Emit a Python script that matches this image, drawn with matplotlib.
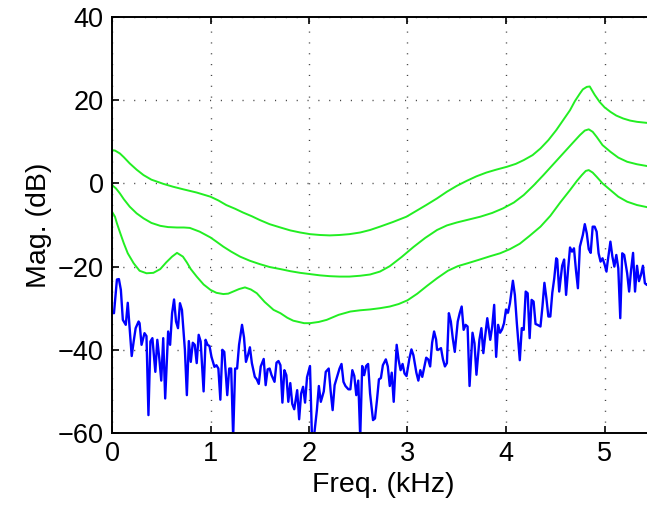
import numpy as np
import matplotlib
matplotlib.use("Agg")
import matplotlib.pyplot as plt

plt.rcParams['font.family'] = ['Liberation Sans', 'DejaVu Sans']

# ---- blue spectrum (kHz, dB)
spec_f = [0.0, 0.02, 0.05, 0.07, 0.09, 0.11, 0.14, 0.16, 0.18, 0.20, 0.22, 0.24, 0.27, 0.28, 0.30,
          0.33, 0.35, 0.37, 0.39, 0.41, 0.44, 0.46, 0.48, 0.50, 0.52, 0.54, 0.57, 0.59, 0.61, 0.63,
          0.65, 0.67, 0.69, 0.71, 0.74, 0.76, 0.78, 0.80, 0.82, 0.84, 0.86, 0.88, 0.90, 0.93, 0.95,
          0.97, 0.99, 1.01, 1.04, 1.06, 1.08, 1.10, 1.12, 1.14, 1.17, 1.19, 1.21, 1.23, 1.25, 1.27,
          1.29, 1.32, 1.34, 1.36, 1.38, 1.40, 1.42, 1.45, 1.47, 1.49, 1.51, 1.54, 1.56, 1.58, 1.60,
          1.62, 1.65, 1.67, 1.69, 1.71, 1.73, 1.75, 1.77, 1.79, 1.81, 1.83, 1.85, 1.88, 1.90, 1.92,
          1.94, 1.96, 1.98, 2.01, 2.03, 2.05, 2.08, 2.10, 2.12, 2.15, 2.17, 2.20, 2.22, 2.24, 2.26,
          2.29, 2.31, 2.33, 2.35, 2.37, 2.40, 2.42, 2.44, 2.46, 2.48, 2.50, 2.52, 2.54, 2.56, 2.58,
          2.60, 2.62, 2.65, 2.67, 2.69, 2.71, 2.73, 2.75, 2.78, 2.80, 2.82, 2.84, 2.86, 2.89, 2.91,
          2.93, 2.95, 2.97, 2.99, 3.02, 3.04, 3.06, 3.09, 3.11, 3.13, 3.15, 3.17, 3.19, 3.21, 3.23,
          3.25, 3.27, 3.29, 3.30, 3.32, 3.34, 3.36, 3.38, 3.40, 3.42, 3.44, 3.46, 3.48, 3.51, 3.53,
          3.55, 3.57, 3.59, 3.61, 3.63, 3.66, 3.68, 3.70, 3.73, 3.75, 3.77, 3.79, 3.81, 3.84, 3.86,
          3.88, 3.90, 3.92, 3.94, 3.96, 3.98, 4.00, 4.02, 4.04, 4.07, 4.09, 4.11, 4.14, 4.16, 4.18,
          4.20, 4.22, 4.24, 4.26, 4.28, 4.30, 4.32, 4.35, 4.37, 4.39, 4.41, 4.43, 4.45, 4.47, 4.49,
          4.51, 4.52, 4.54, 4.57, 4.59, 4.61, 4.63, 4.65, 4.67, 4.69, 4.71, 4.73, 4.75, 4.78, 4.80,
          4.82, 4.84, 4.86, 4.88, 4.90, 4.92, 4.94, 4.96, 4.98, 5.00, 5.02, 5.03, 5.06, 5.08, 5.10,
          5.12, 5.14, 5.16, 5.18, 5.20, 5.23, 5.25, 5.27, 5.29, 5.31, 5.33, 5.35, 5.37, 5.39, 5.41,
          5.43, 5.45]
spec_db = [-31.0, -31.2, -23.1, -23.0, -25.6, -32.8, -34.0, -28.7, -35.2, -41.5, -38.0, -34.8, -33.2, -33.6, -38.8,
           -36.0, -36.7, -55.7, -38.0, -37.2, -45.3, -37.6, -42.0, -47.4, -37.2, -51.7, -35.6, -38.8, -31.2, -27.9,
           -33.2, -34.8, -28.8, -30.4, -40.0, -50.9, -37.9, -42.9, -38.3, -38.8, -43.2, -36.4, -38.0, -50.0, -37.6,
           -38.8, -39.1, -41.7, -44.1, -43.7, -44.5, -52.0, -40.0, -40.5, -50.9, -44.5, -44.5, -61.0, -44.5, -44.5,
           -38.8, -34.0, -37.0, -42.9, -41.3, -39.4, -43.2, -46.5, -47.1, -48.2, -44.0, -42.2, -48.5, -44.7, -44.5,
           -46.1, -47.7, -43.1, -42.7, -43.7, -52.7, -44.9, -46.1, -52.5, -48.0, -53.0, -54.3, -49.7, -56.7, -50.5,
           -48.9, -52.7, -46.6, -43.9, -61.0, -61.0, -54.5, -48.7, -52.5, -50.0, -45.3, -44.5, -50.0, -54.5, -48.5,
           -46.1, -44.5, -43.4, -47.7, -48.7, -49.5, -49.5, -44.9, -46.3, -50.9, -47.4, -61.0, -43.9, -46.1, -43.9,
           -43.4, -50.5, -56.9, -56.5, -52.1, -47.1, -46.8, -43.7, -42.3, -44.0, -48.7, -45.5, -52.5, -38.8, -42.5,
           -44.9, -43.4, -45.7, -46.3, -42.0, -39.9, -41.3, -45.5, -47.4, -44.9, -46.5, -44.2, -41.9, -42.3, -44.0,
           -38.3, -35.6, -37.5, -40.0, -39.9, -39.6, -42.3, -44.0, -43.2, -31.2, -33.2, -37.3, -40.5, -33.2, -31.2,
           -29.6, -35.2, -34.0, -34.4, -48.7, -35.9, -38.4, -46.0, -37.6, -34.8, -40.8, -36.4, -32.4, -37.6, -34.4,
           -29.2, -41.7, -34.0, -35.9, -35.1, -33.6, -30.3, -31.1, -28.8, -23.4, -26.8, -33.6, -42.5, -34.8, -35.2,
           -26.0, -26.4, -37.2, -28.0, -28.4, -33.8, -34.0, -34.4, -29.6, -23.9, -27.6, -32.0, -32.0, -26.3, -22.8,
           -18.0, -18.3, -26.0, -19.8, -18.3, -26.8, -20.8, -15.4, -16.4, -15.6, -20.8, -25.2, -15.2, -12.4, -9.8,
           -12.0, -15.8, -16.7, -10.4, -10.4, -11.6, -16.8, -18.8, -18.0, -19.4, -21.2, -19.2, -14.0, -17.6, -20.0,
           -17.2, -20.4, -32.4, -16.8, -17.2, -21.6, -26.0, -20.8, -16.7, -26.0, -19.8, -23.5, -22.0, -19.8, -24.0,
           -24.4, -24.0]

# ---- green envelopes (kHz, dB)
env1_f = [0.0, 0.03, 0.08, 0.12, 0.18, 0.25, 0.32, 0.40, 0.52, 0.62, 0.72, 0.86, 1.0, 1.08, 1.16,
          1.25, 1.33, 1.42, 1.5, 1.6, 1.71, 1.81, 1.91, 2.01, 2.11, 2.21, 2.31, 2.41, 2.52, 2.62,
          2.72, 2.85, 2.99, 3.09, 3.19, 3.3, 3.4, 3.5, 3.6, 3.7, 3.8, 3.9, 4.01, 4.1, 4.18,
          4.27, 4.35, 4.43, 4.51, 4.58, 4.65, 4.70, 4.75, 4.78, 4.82, 4.85, 4.87, 4.90, 4.95, 5.0,
          5.06, 5.12, 5.19, 5.26, 5.33, 5.45]
env1_db = [8.0, 7.9, 7.2, 6.3, 4.8, 3.3, 2.0, 0.9, -0.1, -0.8, -1.4, -2.2, -3.2, -4.1, -5.2,
           -6.1, -7.0, -7.9, -8.8, -9.8, -10.6, -11.3, -11.8, -12.2, -12.4, -12.5, -12.4, -12.2, -11.8, -11.2,
           -10.4, -9.3, -8.0, -6.6, -5.2, -3.6, -2.0, -0.6, 0.6, 1.7, 2.6, 3.3, 4.0, 4.7, 5.6,
           6.8, 8.4, 10.4, 12.8, 15.2, 17.6, 19.8, 21.6, 22.6, 23.2, 23.3, 22.5, 21.3, 19.6, 18.3,
           17.2, 16.3, 15.6, 15.1, 14.8, 14.5]

env2_f = [0.0, 0.04, 0.08, 0.12, 0.18, 0.25, 0.32, 0.40, 0.49, 0.57, 0.66, 0.73, 0.79, 0.89, 1.0,
          1.06, 1.13, 1.21, 1.3, 1.4, 1.5, 1.6, 1.71, 1.81, 1.91, 2.01, 2.11, 2.21, 2.31, 2.41,
          2.52, 2.62, 2.72, 2.82, 2.94, 3.06, 3.18, 3.3, 3.4, 3.5, 3.62, 3.74, 3.86, 3.97, 4.08,
          4.18, 4.28, 4.38, 4.48, 4.58, 4.68, 4.75, 4.80, 4.84, 4.88, 4.92, 4.98, 5.06, 5.14, 5.23,
          5.33, 5.45]
env2_db = [-0.4, -1.2, -2.4, -3.8, -5.6, -7.2, -8.4, -9.5, -10.2, -10.5, -10.6, -10.6, -10.7, -11.6, -13.0,
           -14.0, -15.2, -16.4, -17.6, -18.6, -19.4, -20.1, -20.6, -21.1, -21.5, -21.8, -22.1, -22.3, -22.4, -22.4,
           -22.2, -21.9, -21.2, -19.9, -17.7, -15.3, -13.1, -11.2, -10.1, -9.4, -8.7, -8.0, -7.1, -6.0, -4.6,
           -2.8, -0.5, 2.0, 4.6, 7.2, 9.8, 11.6, 12.7, 13.0, 12.4, 11.2, 9.2, 7.6, 6.2, 5.2,
           4.6, 4.1]

env3_f = [0.0, 0.03, 0.05, 0.08, 0.12, 0.16, 0.22, 0.28, 0.35, 0.42, 0.49, 0.55, 0.61, 0.66, 0.72,
          0.76, 0.80, 0.86, 0.93, 1.0, 1.06, 1.13, 1.18, 1.23, 1.29, 1.35, 1.41, 1.47, 1.55, 1.64,
          1.71, 1.78, 1.84, 1.95, 2.01, 2.1, 2.18, 2.3, 2.42, 2.52, 2.62, 2.72, 2.82, 2.91, 3.0,
          3.1, 3.2, 3.3, 3.41, 3.51, 3.61, 3.72, 3.84, 3.94, 4.04, 4.14, 4.24, 4.35, 4.45, 4.55,
          4.65, 4.72, 4.77, 4.81, 4.84, 4.88, 4.92, 4.98, 5.06, 5.14, 5.23, 5.33, 5.45]
env3_db = [-6.8, -8.0, -9.6, -11.7, -14.4, -16.8, -19.2, -21.0, -21.6, -21.5, -20.6, -19.0, -17.6, -16.7, -17.6,
           -19.0, -20.6, -22.4, -24.3, -25.6, -26.3, -26.6, -26.5, -26.0, -25.4, -25.0, -25.5, -26.4, -28.5, -30.4,
           -31.2, -32.3, -33.0, -33.6, -33.6, -33.3, -32.8, -31.6, -30.8, -30.5, -30.3, -30.0, -29.6, -29.0, -28.1,
           -26.5, -24.6, -22.8, -21.0, -19.9, -19.2, -18.4, -17.5, -16.8, -15.8, -14.5, -12.6, -10.4, -7.8, -4.6,
           -1.6, 0.6, 2.0, 3.0, 3.2, 2.6, 1.6, 0.0, -1.6, -3.2, -4.4, -5.2, -5.8]

x_ticks = [0, 1, 2, 3, 4, 5]
y_ticks = [-60, -40, -20, 0, 20, 40]

fig = plt.figure(figsize=(6.47, 5.11), dpi=100)
# right edge of the axes falls outside the picture, like in the reference
ax = fig.add_axes([112 / 647, 1 - 433 / 511, 541.75 / 647, 416 / 511])

green = '#22ee22'
ax.plot(env1_f, env1_db, color=green, lw=1.4)
ax.plot(env2_f, env2_db, color=green, lw=1.4)
ax.plot(env3_f, env3_db, color=green, lw=1.4)
ax.plot(spec_f, spec_db, color='#0000ff', lw=1.7)

ax.set_xlim(0, 5.5)
ax.set_ylim(-60, 40)
ax.set_xticks(x_ticks)
ax.set_yticks(y_ticks)
ax.set_yticklabels(['\u221260', '\u221240', '\u221220', '0', '20', '40'])
ax.grid(True, color='#444444', linestyle=(0, (0.8, 7)), linewidth=1.0)
ax.tick_params(direction='in', length=5, width=1.2, labelsize=19.5, top=True, right=True, pad=6)
for s in ax.spines.values():
    s.set_linewidth(1.4)

ax.set_xlabel('Freq. (kHz)', fontsize=20.5, labelpad=3)
ax.set_ylabel('Mag. (dB)', fontsize=20.5, labelpad=4)

fig.savefig('out.png', dpi=100)
